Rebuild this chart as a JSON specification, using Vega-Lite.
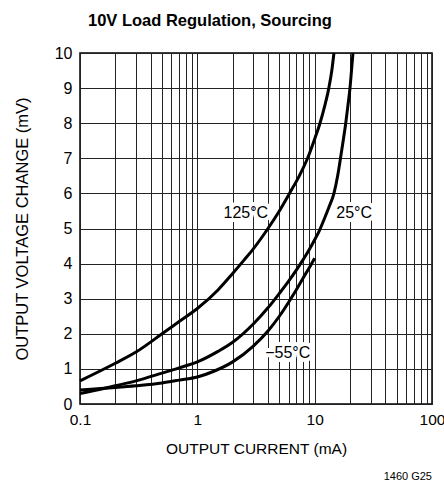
{
  "$schema": "https://vega.github.io/schema/vega-lite/v6.json",
  "width": 352,
  "height": 351,
  "autosize": "none",
  "padding": {"left": 80, "top": 53, "right": 12, "bottom": 79},
  "background": "white",
  "title": {
    "text": "10V Load Regulation, Sourcing",
    "anchor": "start",
    "frame": "group",
    "dx": 8,
    "offset": 16,
    "fontSize": 16.5,
    "font": "Liberation Sans",
    "fontWeight": "bold",
    "color": "#000"
  },
  "config": {
    "view": {"stroke": "#000", "strokeWidth": 1.5},
    "font": "Liberation Sans",
    "axis": {
      "grid": true,
      "gridColor": "#222",
      "gridWidth": 1,
      "gridOpacity": 1,
      "ticks": false,
      "domain": false,
      "labelFontSize": 16,
      "labelColor": "#000",
      "titleFontSize": 15.5,
      "titleFontWeight": "normal",
      "titleColor": "#000",
      "labelFlush": false,
      "labelOverlap": false,
      "labelBound": false
    }
  },
  "datasets": {
    "curves": [
      {"temp": "125", "current": 0.1, "dv": 0.66},
      {"temp": "125", "current": 0.2, "dv": 1.16},
      {"temp": "125", "current": 0.3, "dv": 1.48},
      {"temp": "125", "current": 0.5, "dv": 2.0},
      {"temp": "125", "current": 0.7, "dv": 2.35},
      {"temp": "125", "current": 1, "dv": 2.72},
      {"temp": "125", "current": 1.5, "dv": 3.25},
      {"temp": "125", "current": 2, "dv": 3.72},
      {"temp": "125", "current": 2.5, "dv": 4.1},
      {"temp": "125", "current": 3, "dv": 4.42},
      {"temp": "125", "current": 4, "dv": 5.0},
      {"temp": "125", "current": 5, "dv": 5.5},
      {"temp": "125", "current": 6.1, "dv": 6.0},
      {"temp": "125", "current": 7.4, "dv": 6.5},
      {"temp": "125", "current": 8.7, "dv": 7.0},
      {"temp": "125", "current": 10, "dv": 7.55},
      {"temp": "125", "current": 11.1, "dv": 8.0},
      {"temp": "125", "current": 12.2, "dv": 8.5},
      {"temp": "125", "current": 13.2, "dv": 9.0},
      {"temp": "125", "current": 14, "dv": 9.5},
      {"temp": "125", "current": 14.6, "dv": 10.0},
      {"temp": "25", "current": 0.1, "dv": 0.3},
      {"temp": "25", "current": 0.15, "dv": 0.42},
      {"temp": "25", "current": 0.2, "dv": 0.52},
      {"temp": "25", "current": 0.3, "dv": 0.66},
      {"temp": "25", "current": 0.5, "dv": 0.88},
      {"temp": "25", "current": 0.7, "dv": 1.03},
      {"temp": "25", "current": 1, "dv": 1.2},
      {"temp": "25", "current": 1.5, "dv": 1.5},
      {"temp": "25", "current": 2, "dv": 1.76},
      {"temp": "25", "current": 3, "dv": 2.28},
      {"temp": "25", "current": 4, "dv": 2.74},
      {"temp": "25", "current": 5, "dv": 3.15},
      {"temp": "25", "current": 6, "dv": 3.5},
      {"temp": "25", "current": 7, "dv": 3.82},
      {"temp": "25", "current": 8, "dv": 4.12},
      {"temp": "25", "current": 9, "dv": 4.4},
      {"temp": "25", "current": 10, "dv": 4.68},
      {"temp": "25", "current": 11, "dv": 4.95},
      {"temp": "25", "current": 12, "dv": 5.25},
      {"temp": "25", "current": 13.2, "dv": 5.6},
      {"temp": "25", "current": 14.6, "dv": 6.0},
      {"temp": "25", "current": 15.7, "dv": 6.5},
      {"temp": "25", "current": 16.6, "dv": 7.0},
      {"temp": "25", "current": 17.5, "dv": 7.5},
      {"temp": "25", "current": 18.4, "dv": 8.0},
      {"temp": "25", "current": 19.2, "dv": 8.5},
      {"temp": "25", "current": 20, "dv": 9.0},
      {"temp": "25", "current": 20.6, "dv": 9.5},
      {"temp": "25", "current": 21.2, "dv": 10.0},
      {"temp": "-55", "current": 0.1, "dv": 0.4},
      {"temp": "-55", "current": 0.2, "dv": 0.47},
      {"temp": "-55", "current": 0.3, "dv": 0.52},
      {"temp": "-55", "current": 0.5, "dv": 0.6},
      {"temp": "-55", "current": 0.7, "dv": 0.68},
      {"temp": "-55", "current": 1, "dv": 0.77},
      {"temp": "-55", "current": 1.4, "dv": 0.94},
      {"temp": "-55", "current": 2, "dv": 1.2},
      {"temp": "-55", "current": 3, "dv": 1.65},
      {"temp": "-55", "current": 4, "dv": 2.08},
      {"temp": "-55", "current": 5, "dv": 2.5},
      {"temp": "-55", "current": 6, "dv": 2.9},
      {"temp": "-55", "current": 7, "dv": 3.26},
      {"temp": "-55", "current": 8, "dv": 3.6},
      {"temp": "-55", "current": 9, "dv": 3.88},
      {"temp": "-55", "current": 10, "dv": 4.15}
    ],
    "labels": [
      {"label": "125°C", "current": 2.59, "dv": 5.43},
      {"label": "25°C", "current": 21.7, "dv": 5.43},
      {"label": "−55°C", "current": 5.89, "dv": 1.46}
    ],
    "note": [
      {"label": "1460 G25", "current": 100, "dv": -2.17}
    ]
  },
  "encoding": {
    "x": {
      "field": "current",
      "type": "quantitative",
      "scale": {"type": "log", "domain": [0.1, 100]},
      "axis": {
        "title": "OUTPUT CURRENT (mA)",
        "values": [0.1, 0.2, 0.3, 0.4, 0.5, 0.6, 0.7, 0.8, 0.9, 1, 2, 3, 4, 5, 6, 7, 8, 9, 10, 20, 30, 40, 50, 60, 70, 80, 90, 100],
        "labelExpr": "(datum.value == 0.1 || datum.value == 1 || datum.value == 10 || datum.value == 100) ? (datum.value == 0.1 ? '0.1' : format(datum.value, 'd')) : ''",
        "labelFontSize": 15.5,
        "labelOverlap": false,
        "labelPadding": 8,
        "titlePadding": 14
      }
    },
    "y": {
      "field": "dv",
      "type": "quantitative",
      "scale": {"domain": [0, 10]},
      "axis": {
        "title": "OUTPUT VOLTAGE CHANGE (mV)",
        "values": [0, 1, 2, 3, 4, 5, 6, 7, 8, 9, 10],
        "labelExpr": "format(datum.value, 'd')",
        "labelOverlap": false,
        "labelSeparation": 0,
        "labelPadding": 8,
        "titleFontSize": 16.5,
        "titlePadding": 24
      }
    }
  },
  "layer": [
    {
      "data": {"name": "curves"},
      "mark": {"type": "line", "color": "#000", "strokeWidth": 3, "interpolate": "monotone"},
      "encoding": {
        "detail": {"field": "temp", "type": "nominal"}
      }
    },
    {
      "data": {"name": "labels"},
      "mark": {"type": "text", "fontSize": 16, "fill": "white", "stroke": "white", "strokeWidth": 8, "align": "center", "baseline": "middle"},
      "encoding": {
        "text": {"field": "label"}
      }
    },
    {
      "data": {"name": "labels"},
      "mark": {"type": "text", "fontSize": 16, "fill": "#000", "align": "center", "baseline": "middle"},
      "encoding": {
        "text": {"field": "label"}
      }
    },
    {
      "data": {"name": "note"},
      "mark": {"type": "text", "fontSize": 11, "fill": "#000", "align": "right", "baseline": "alphabetic"},
      "encoding": {
        "text": {"field": "label"}
      }
    }
  ]
}
